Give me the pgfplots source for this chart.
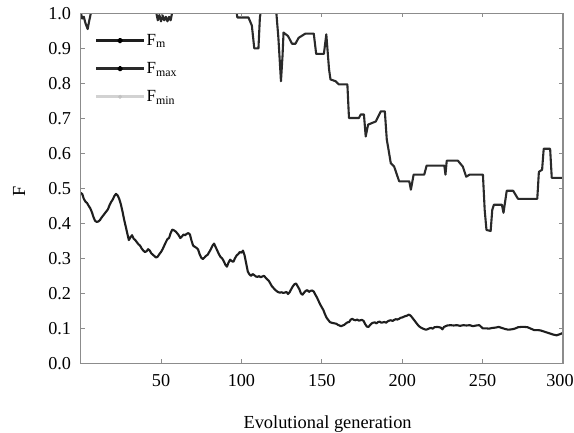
\documentclass[border=0pt]{standalone}
\usepackage{fontspec}
\setmainfont{Liberation Serif}
\usepackage{pgfplots}
\pgfplotsset{compat=1.18}
\definecolor{frameGray}{HTML}{8C8C8C}
\definecolor{curveA}{HTML}{1E1E1E}
\definecolor{curveB}{HTML}{2A2A2A}
\definecolor{minGray}{HTML}{D2D2D2}
\begin{document}
\begin{tikzpicture}
\path[use as bounding box] (0,0) rectangle (574bp,-433bp);
\begin{axis}[
  at={(80.6bp,-363.3bp)}, anchor=south west,
  scale only axis, width=482.4bp, height=350bp,
  xmin=0, xmax=300, ymin=0, ymax=1,
  xtick={50,100,150,200,250},
  extra x ticks={300},
  extra x tick style={xticklabel style={xshift=-3bp}},
  ytick={0,0.1,0.2,0.3,0.4,0.5,0.6,0.7,0.8,0.9,1.0},
  /pgf/number format/assume math mode=true,
  yticklabel style={/pgf/number format/fixed, /pgf/number format/fixed zerofill, /pgf/number format/precision=1, xshift=-6bp},
  ticklabel style={font=\fontsize{18.2bp}{22bp}\selectfont},
  xticklabel style={yshift=-7.5bp},
  tick align=inside, major tick length=4bp,
  tick style={color=frameGray, line width=0.9bp},
  axis line style={color=frameGray, line width=1.3bp},
  axis on top,
  xlabel={Evolutional generation},
  xlabel style={at={(axis description cs:0.512,-0.185)}, anchor=base, font=\fontsize{18.4bp}{22bp}\selectfont},
  ylabel={F},
  ylabel style={at={(axis description cs:-0.1277,0.492)}, anchor=center, rotate=0, font=\fontsize{18.4bp}{22bp}\selectfont},
  legend style={draw=none, fill=none, inner sep=0pt, outer sep=0pt,
    at={(axis description cs:0.029,0.943)}, anchor=north west,
    row sep=13.5bp, column sep=0bp,
    font=\fontsize{17bp}{20bp}\selectfont,
    nodes={inner sep=1bp}},
  legend cell align=left,
]
\addplot[curveA, line width=2.1bp, line join=round,
  legend image code/.code={\draw[curveA, line width=3bp] (0bp,0bp) -- (48bp,0bp); \fill[black] (24bp,0bp) circle (1.8bp);}]
coordinates {
(0,0.487) (1,0.484) (2,0.470) (3,0.462) (4,0.458) (5,0.450) (6,0.443) (7,0.432) (8,0.418) (9,0.407)
(10,0.404) (11,0.405) (12,0.409) (13,0.416) (14,0.422) (15,0.428) (16,0.434) (17,0.440) (18,0.452) (19,0.461)
(20,0.468) (21,0.478) (22,0.484) (23,0.480) (24,0.470) (25,0.455) (26,0.435) (27,0.412) (28,0.392) (29,0.372)
(30,0.352) (31,0.360) (32,0.366) (33,0.356) (34,0.352) (35,0.346) (36,0.340) (37,0.336) (38,0.328) (39,0.322)
(40,0.318) (41,0.320) (42,0.326) (43,0.322) (44,0.314) (45,0.310) (46,0.306) (47,0.302) (48,0.305) (49,0.312)
(50,0.318) (51,0.326) (52,0.336) (53,0.346) (54,0.355) (55,0.358) (56,0.372) (57,0.382) (58,0.380) (59,0.377)
(60,0.372) (61,0.366) (62,0.358) (63,0.362) (64,0.368) (65,0.366) (66,0.370) (67,0.372) (68,0.368) (69,0.350)
(70,0.336) (71,0.333) (72,0.330) (73,0.326) (74,0.312) (75,0.302) (76,0.298) (77,0.302) (78,0.307) (79,0.310)
(80,0.318) (81,0.326) (82,0.336) (83,0.342) (84,0.332) (85,0.322) (86,0.312) (87,0.304) (88,0.300) (89,0.292)
(90,0.282) (91,0.276) (92,0.288) (93,0.296) (94,0.292) (95,0.290) (96,0.300) (97,0.308) (98,0.312) (99,0.318)
(100,0.316) (101,0.322) (102,0.308) (103,0.285) (104,0.262) (105,0.254) (106,0.250) (107,0.255) (108,0.252) (109,0.248)
(110,0.247) (111,0.249) (112,0.246) (113,0.248) (114,0.250) (115,0.245) (116,0.240) (117,0.236) (118,0.228) (119,0.220)
(120,0.215) (121,0.210) (122,0.206) (123,0.203) (124,0.202) (125,0.203) (126,0.201) (127,0.202) (128,0.204) (129,0.198)
(130,0.203) (131,0.212) (132,0.220) (133,0.226) (134,0.228) (135,0.220) (136,0.212) (137,0.200) (138,0.196) (139,0.202)
(140,0.207) (141,0.209) (142,0.204) (143,0.207) (144,0.208) (145,0.205) (146,0.196) (147,0.188) (148,0.178) (149,0.168)
(150,0.160) (151,0.152) (152,0.140) (153,0.130) (154,0.124) (155,0.118) (156,0.116) (157,0.115) (158,0.114) (159,0.113)
(160,0.110) (161,0.108) (162,0.106) (163,0.108) (164,0.110) (165,0.114) (166,0.117) (167,0.118) (168,0.125) (169,0.127)
(170,0.124) (171,0.123) (172,0.125) (173,0.122) (174,0.123) (175,0.124) (176,0.121) (177,0.112) (178,0.105) (179,0.104)
(180,0.109) (181,0.114) (182,0.116) (183,0.117) (184,0.114) (185,0.118) (186,0.119) (187,0.116) (188,0.117) (189,0.118)
(190,0.116) (191,0.120) (192,0.122) (193,0.123) (194,0.121) (195,0.124) (196,0.126) (197,0.125) (198,0.127) (199,0.130)
(200,0.131) (201,0.133) (202,0.135) (203,0.136) (204,0.139) (205,0.137) (206,0.132) (207,0.126) (208,0.120) (209,0.114)
(210,0.108) (211,0.104) (212,0.101) (213,0.099) (214,0.097) (215,0.096) (216,0.098) (217,0.100) (218,0.101) (219,0.099)
(220,0.103) (222,0.104) (224,0.102) (225,0.097) (226,0.104) (228,0.108) (230,0.109) (232,0.108) (234,0.109) (236,0.107)
(238,0.109) (240,0.108) (242,0.109) (244,0.106) (246,0.108) (248,0.109) (250,0.100) (252,0.100) (254,0.099) (256,0.101)
(258,0.102) (260,0.104) (262,0.101) (264,0.098) (266,0.096) (268,0.097) (270,0.099) (272,0.103) (274,0.104) (276,0.104)
(278,0.103) (280,0.099) (282,0.095) (284,0.095) (286,0.094) (288,0.091) (290,0.088) (292,0.085) (294,0.082) (296,0.080)
(298,0.083) (300,0.087)
};
\addlegendentry{F\textsubscript{m}}
\addplot[curveB, line width=2.1bp, line join=round,
  legend image code/.code={\draw[curveB, line width=3bp] (0bp,0bp) -- (48bp,0bp); \fill[black] (24bp,0bp) circle (1.8bp);}]
coordinates {
(0,1.003) (0.5,0.995) (1,0.985) (2,0.99) (3,0.972) (4.4,0.955) (5.2,0.975) (6.5,1.003)
(47,1.003) (48,0.98) (49,0.995) (50,0.977) (51,0.994) (52,0.98) (53,0.99) (54,0.977) (55,0.99) (56,0.98) (57,1.003)
(97,1.003) (97.5,0.988) (104.4,0.988) (106.5,0.965) (108,0.90) (110.6,0.90) (111.5,0.988) (112,1.003)
(121.7,1.003) (123,0.93) (124.6,0.806) (125.6,0.88) (126.2,0.945) (129,0.935) (131.5,0.913) (133.6,0.913)
(135.6,0.93) (139.8,0.942) (145,0.942) (146.5,0.884) (151.3,0.884) (152.8,0.94) (154.5,0.84) (155.4,0.811)
(158.6,0.806) (160.6,0.797) (165.9,0.797) (166.9,0.701) (173.1,0.701) (174.2,0.711) (176.2,0.711) (177.3,0.648)
(178.8,0.682) (183.6,0.691) (186.7,0.72) (189.2,0.72) (190.4,0.64) (192.9,0.572) (195,0.562) (198.1,0.52)
(204.4,0.52) (205.4,0.496) (207.1,0.539) (213.7,0.539) (215.2,0.565) (226.2,0.565) (226.9,0.539) (227.7,0.579)
(234.6,0.579) (237.7,0.562) (239.8,0.533) (241.9,0.539) (250.2,0.539) (251.3,0.438) (252.4,0.381) (255,0.378)
(256,0.438) (257,0.453) (262,0.453) (263,0.43) (265,0.493) (269,0.493) (272,0.47) (284,0.47) (285,0.547)
(287,0.553) (288,0.613) (292,0.613) (293,0.53) (300,0.53)
};
\addlegendentry{F\textsubscript{max}}
\addlegendimage{legend image code/.code={\draw[minGray, line width=3bp] (0bp,0bp) -- (48bp,0bp); \fill[minGray!80!gray] (24bp,0bp) circle (1.8bp);}}
\addlegendentry{F\textsubscript{min}}
\end{axis}
\end{tikzpicture}
\end{document}
